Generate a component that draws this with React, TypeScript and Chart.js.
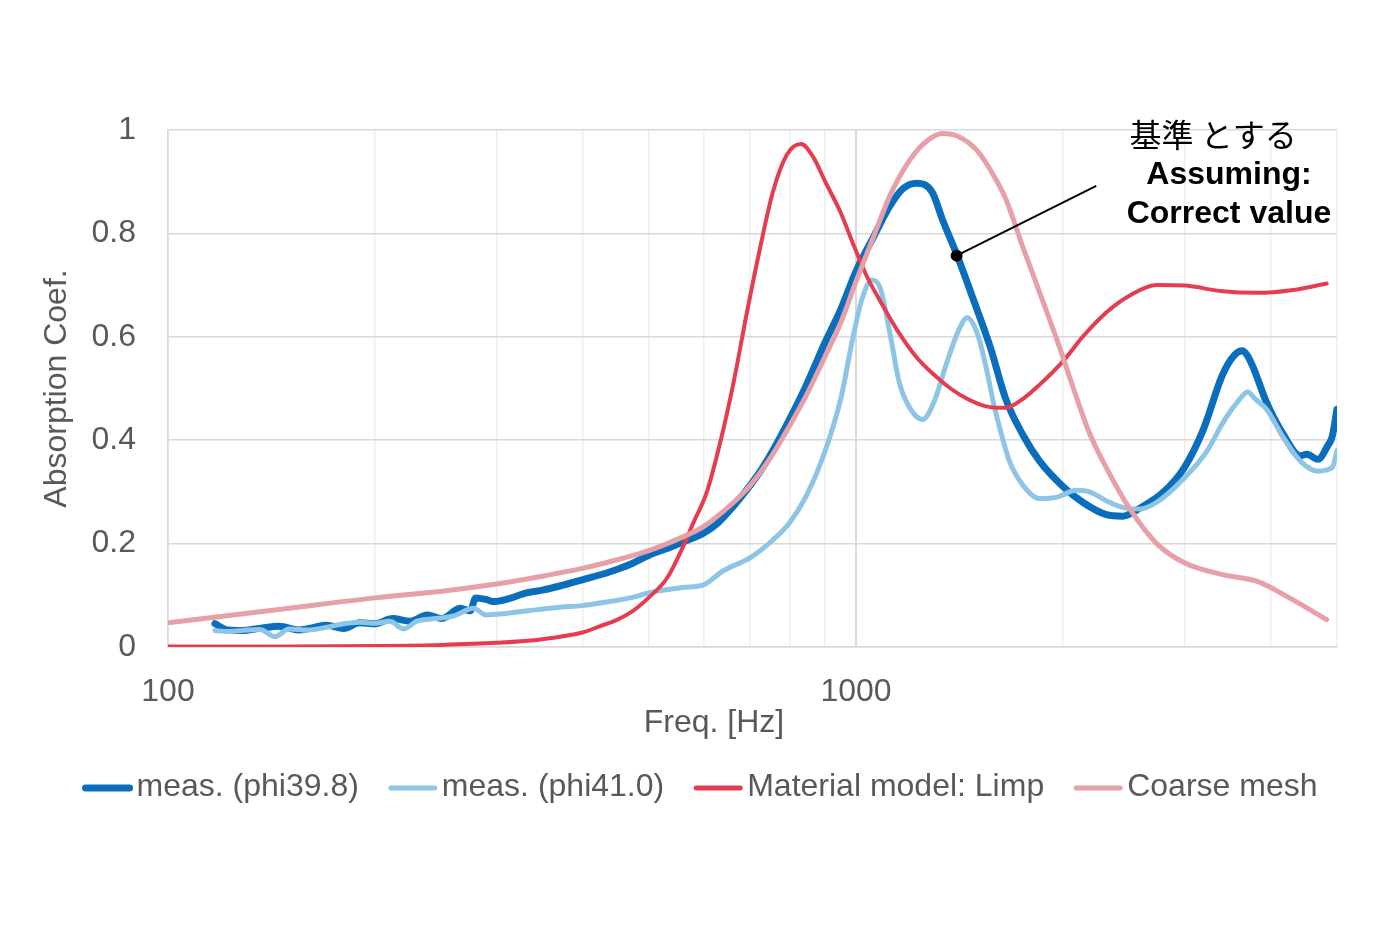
import React, { useEffect, useRef } from "react";
import { Chart, registerables } from "chart.js";

Chart.register(...registerables);

// ---- data ----
const freqDark = [117, 122, 128, 136, 145, 155, 163, 170, 180, 190, 200, 212, 225, 238, 250, 266, 275, 280, 290, 297, 310, 333, 350, 371, 400, 438, 470, 501, 530, 560, 600, 630, 664, 702, 730, 757, 800, 847, 900, 950, 1000, 1060, 1120, 1171, 1225, 1290, 1335, 1400, 1480, 1567, 1650, 1748, 1847, 2000, 2135, 2310, 2440, 2580, 2800, 3000, 3195, 3410, 3550, 3640, 3700, 3780, 3950, 4170, 4420, 4520, 4690, 4850, 4920, 5000];
const valDark = [0.045, 0.033, 0.032, 0.036, 0.04, 0.033, 0.038, 0.042, 0.036, 0.047, 0.045, 0.055, 0.05, 0.062, 0.055, 0.075, 0.07, 0.095, 0.092, 0.088, 0.092, 0.105, 0.11, 0.118, 0.13, 0.145, 0.16, 0.178, 0.19, 0.203, 0.22, 0.24, 0.273, 0.313, 0.345, 0.38, 0.44, 0.507, 0.587, 0.653, 0.727, 0.793, 0.853, 0.887, 0.897, 0.88, 0.827, 0.76, 0.673, 0.58, 0.48, 0.41, 0.36, 0.31, 0.28, 0.256, 0.253, 0.268, 0.3, 0.347, 0.42, 0.527, 0.565, 0.573, 0.565, 0.54, 0.473, 0.413, 0.37, 0.373, 0.363, 0.39, 0.407, 0.46];

const freqLight = [117, 122, 128, 136, 143, 150, 160, 170, 180, 190, 200, 210, 220, 230, 245, 260, 278, 290, 310, 333, 371, 400, 438, 470, 501, 560, 600, 640, 702, 757, 800, 847, 895, 950, 990, 1020, 1055, 1085, 1120, 1155, 1200, 1250, 1297, 1357, 1410, 1450, 1500, 1550, 1585, 1620, 1670, 1748, 1847, 1960, 2090, 2185, 2310, 2440, 2580, 2735, 3000, 3240, 3410, 3580, 3710, 3800, 3950, 4170, 4420, 4690, 4920, 5000];
const valLight = [0.032, 0.03, 0.032, 0.034, 0.02, 0.035, 0.033, 0.038, 0.045, 0.048, 0.046, 0.05, 0.035, 0.05, 0.055, 0.06, 0.075, 0.062, 0.065, 0.07, 0.077, 0.08, 0.088, 0.095, 0.105, 0.115, 0.12, 0.147, 0.173, 0.207, 0.24, 0.293, 0.367, 0.48, 0.6, 0.673, 0.71, 0.693, 0.607, 0.513, 0.46, 0.44, 0.473, 0.553, 0.613, 0.637, 0.607, 0.533, 0.47, 0.42, 0.36, 0.313, 0.287, 0.29, 0.303, 0.3, 0.283, 0.27, 0.267, 0.28, 0.327, 0.38, 0.433, 0.473, 0.493, 0.48, 0.46, 0.407, 0.36, 0.34, 0.347, 0.38];

const freqLimp = [100, 150, 200, 250, 300, 350, 400, 424, 450, 474, 501, 531, 560, 580, 607, 634, 664, 694, 724, 757, 794, 832, 867, 902, 950, 990, 1034, 1094, 1155, 1225, 1297, 1372, 1450, 1530, 1600, 1650, 1748, 1847, 2000, 2135, 2310, 2500, 2735, 3000, 3410, 3830, 4290, 4830];
const valLimp = [0.001, 0.001, 0.002, 0.004, 0.008, 0.015, 0.028, 0.04, 0.053, 0.07, 0.097, 0.133, 0.193, 0.24, 0.3, 0.393, 0.513, 0.647, 0.767, 0.88, 0.953, 0.973, 0.947, 0.9, 0.84, 0.78, 0.72, 0.66, 0.607, 0.56, 0.527, 0.5, 0.48, 0.467, 0.463, 0.463, 0.48, 0.507, 0.553, 0.6, 0.647, 0.68, 0.7, 0.699, 0.688, 0.685, 0.69, 0.703];

const freqCoarse = [100, 150, 200, 250, 300, 350, 400, 424, 501, 560, 600, 664, 702, 757, 800, 847, 900, 950, 1000, 1060, 1120, 1185, 1253, 1335, 1410, 1500, 1583, 1650, 1748, 1847, 1960, 2070, 2185, 2310, 2500, 2735, 3000, 3410, 3830, 4290, 4830];
const valCoarse = [0.047, 0.075, 0.095, 0.108, 0.122, 0.137, 0.152, 0.16, 0.187, 0.213, 0.233, 0.28, 0.313, 0.373, 0.427, 0.487, 0.56, 0.627, 0.707, 0.793, 0.873, 0.933, 0.973, 0.993, 0.987, 0.96, 0.913, 0.867, 0.773, 0.687, 0.593, 0.5, 0.413, 0.347, 0.267, 0.2, 0.163, 0.14, 0.127, 0.093, 0.053];

const seriesNames = ["meas. (phi39.8)", "meas. (phi41.0)", "Material model: Limp", "Coarse mesh"];
const seriesColors = ["#0a6ebd", "#8ec4e6", "#e63c50", "#e6a0a8"];
const seriesWidths = [7, 5, 4, 5];

const xTickValues = [100, 200, 300, 400, 500, 600, 700, 800, 900, 1000, 2000, 3000, 4000, 5000];
const xTickLabels = ["100", "", "", "", "", "", "", "", "", "1000", "", "", "", ""];
const yTickLabels = ["0", "0.2", "0.4", "0.6", "0.8", "1"];
const xTitle = "Freq. [Hz]";
const yTitle = "Absorption Coef.";

const annotationPoint = [1400, 0.757];
const annotationLineEnd = [2234, 0.892];
const annotationTexts = ["基準 とする", "Assuming:", "Correct value"];
const annotationTextFreq = [3304, 3483, 3483];
const annotationTextVal = [0.99, 0.913, 0.838];

const FONT = '"Liberation Sans", Arial, sans-serif';
const TEXT_COLOR = "#595959";

const toPoints = (xs: number[], ys: number[]) => xs.map((x, i) => ({ x, y: ys[i] }));

const annotationPlugin = {
  id: "annotationText",
  afterDatasetsDraw(chart: any) {
    const { ctx, scales } = chart;
    const x = scales.x;
    const y = scales.y;
    const px = x.getPixelForValue(annotationPoint[0]);
    const py = y.getPixelForValue(annotationPoint[1]);
    const ex = x.getPixelForValue(annotationLineEnd[0]);
    const ey = y.getPixelForValue(annotationLineEnd[1]);
    ctx.save();
    ctx.strokeStyle = "#000";
    ctx.lineWidth = 2;
    ctx.beginPath();
    ctx.moveTo(px, py);
    ctx.lineTo(ex, ey);
    ctx.stroke();
    ctx.fillStyle = "#000";
    ctx.beginPath();
    ctx.arc(px, py, 6, 0, Math.PI * 2);
    ctx.fill();
    ctx.textAlign = "center";
    ctx.textBaseline = "middle";
    annotationTexts.forEach((t, i) => {
      ctx.font = i === 0 ? '32px "Noto Sans CJK JP", sans-serif' : `bold 32px ${FONT}`;
      ctx.fillText(t, x.getPixelForValue(annotationTextFreq[i]), y.getPixelForValue(annotationTextVal[i]));
    });
    ctx.restore();
  },
};

// x-axis title and legend drawn beneath the axis
const bottomTextPlugin = {
  id: "bottomText",
  afterDraw(chart: any) {
    const { ctx } = chart;
    ctx.save();
    ctx.font = `32px ${FONT}`;
    ctx.fillStyle = TEXT_COLOR;
    ctx.textBaseline = "middle";
    ctx.textAlign = "center";
    ctx.fillText(xTitle, 714, 723);

    // legend
    const lineLen = 50;
    const gapText = 4;
    const gapItem = 29;
    const widths = seriesNames.map((n) => ctx.measureText(n).width);
    const total = widths.reduce((s, w) => s + lineLen + gapText + w, 0) + gapItem * (seriesNames.length - 1);
    let cx = 700 - total / 2;
    const cy = 787;
    ctx.textAlign = "left";
    seriesNames.forEach((n, i) => {
      ctx.strokeStyle = seriesColors[i];
      ctx.lineWidth = i === 0 ? 7 : 5;
      ctx.lineCap = "round";
      ctx.beginPath();
      ctx.moveTo(cx + 3, cy + 1);
      ctx.lineTo(cx + lineLen - 3, cy + 1);
      ctx.stroke();
      ctx.fillStyle = TEXT_COLOR;
      ctx.fillText(n, cx + lineLen + gapText, cy);
      cx += lineLen + gapText + widths[i] + gapItem;
    });
    ctx.restore();
  },
};

export default function App() {
  const canvasRef = useRef<HTMLCanvasElement | null>(null);

  useEffect(() => {
    if (!canvasRef.current) return;
    const sets = [
      [freqDark, valDark],
      [freqLight, valLight],
      [freqLimp, valLimp],
      [freqCoarse, valCoarse],
    ];
    const chart = new Chart(canvasRef.current, {
      type: "line",
      data: {
        datasets: sets.map((s, i) => ({
          label: seriesNames[i],
          data: toPoints(s[0] as number[], s[1] as number[]),
          borderColor: seriesColors[i],
          backgroundColor: seriesColors[i],
          borderWidth: seriesWidths[i],
          pointRadius: 0,
          fill: false,
          cubicInterpolationMode: "monotone",
          borderJoinStyle: "round",
          borderCapStyle: "round",
          order: 4 - i,
        })),
      },
      options: {
        animation: false,
        responsive: false,
        maintainAspectRatio: false,
        layout: { padding: { left: 22, right: 63, top: 130, bottom: 169 } },
        plugins: {
          tooltip: { enabled: false },
          legend: { display: false },
        },
        scales: {
          x: {
            type: "logarithmic",
            min: 100,
            max: 5000,
            afterBuildTicks: (scale: any) => {
              scale.ticks = xTickValues.map((v) => ({ value: v }));
            },
            afterFit: (scale: any) => {
              scale.height = 114;
            },
            ticks: {
              autoSkip: false,
              maxRotation: 0,
              padding: 29,
              color: TEXT_COLOR,
              font: { size: 32, family: FONT, lineHeight: 1 },
              callback: (v: any) => {
                const idx = xTickValues.indexOf(Number(v));
                return idx >= 0 ? xTickLabels[idx] : "";
              },
            },
            grid: {
              drawTicks: false,
              color: (ctx: any) => {
                const v = ctx.tick ? ctx.tick.value : 0;
                return v === 1000 || v === 100 ? "#d9d9d9" : "#efefef";
              },
              lineWidth: (ctx: any) => (ctx.tick && ctx.tick.value === 1000 ? 2 : 1.5),
            },
            border: { color: "#d9d9d9", width: 1.5 },
          },
          y: {
            min: 0,
            max: 1,
            afterBuildTicks: (scale: any) => {
              scale.ticks = yTickLabels.map((_, i) => ({ value: i * 0.2 }));
            },
            afterFit: (scale: any) => {
              scale.width = 146;
            },
            ticks: {
              padding: 32,
              color: TEXT_COLOR,
              font: { size: 32, family: FONT, lineHeight: 1 },
              callback: (_v: any, i: number) => yTickLabels[i],
            },
            grid: { drawTicks: false, color: "#d9d9d9", lineWidth: 1.5 },
            border: { color: "#d9d9d9", width: 1.5 },
            title: {
              display: true,
              text: yTitle,
              color: TEXT_COLOR,
              font: { size: 32, family: FONT, lineHeight: 1 },
              padding: { top: 19, bottom: 0 },
            },
          },
        },
      },
      plugins: [annotationPlugin, bottomTextPlugin],
    } as any);
    return () => chart.destroy();
  }, []);

  return (
    <div style={{ position: "absolute", left: 0, top: 0, width: 1400, height: 930, background: "#fff" }}>
      <canvas ref={canvasRef} width={1400} height={930} style={{ display: "block" }} />
    </div>
  );
}
